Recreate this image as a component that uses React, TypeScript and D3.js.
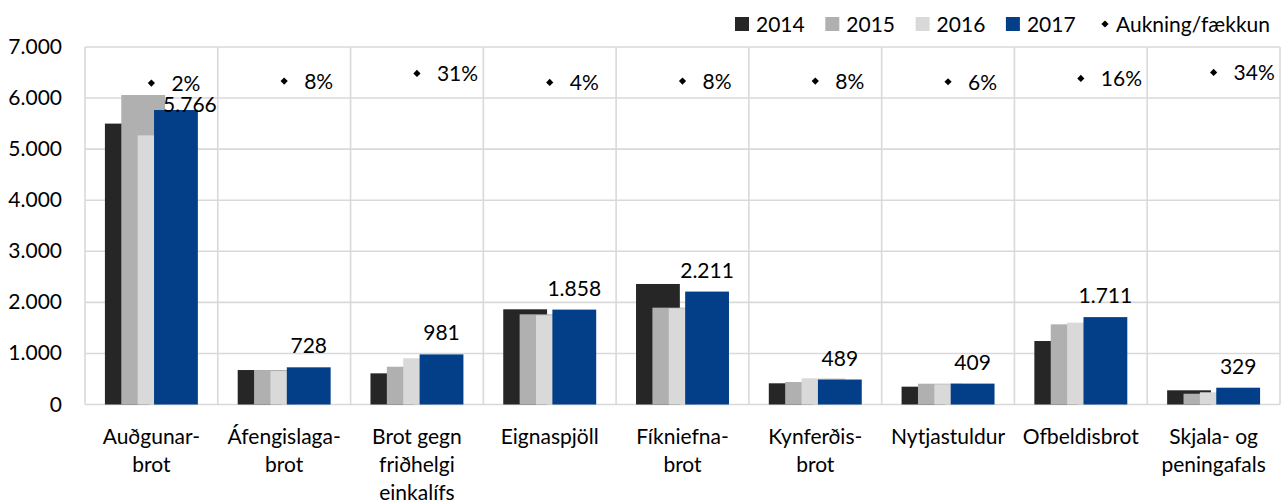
import React, { useEffect, useRef } from 'react';
import * as d3 from 'd3';

// brotaflokkar (category labels, pre-wrapped as in the source chart)
const categories = [
  'Auðgunarbrot',
  'Áfengislagabrot',
  'Brot gegn friðhelgi einkalífs',
  'Eignaspjöll',
  'Fíkniefnabrot',
  'Kynferðisbrot',
  'Nytjastuldur',
  'Ofbeldisbrot',
  'Skjala- og peningafals',
];
const categoryLines = [
  ['Auðgunar-', 'brot'],
  ['Áfengislaga-', 'brot'],
  ['Brot gegn', 'friðhelgi', 'einkalífs'],
  ['Eignaspjöll'],
  ['Fíkniefna-', 'brot'],
  ['Kynferðis-', 'brot'],
  ['Nytjastuldur'],
  ['Ofbeldisbrot'],
  ['Skjala- og', 'peningafals'],
];

const years = ['2014', '2015', '2016', '2017'];
const values2014 = [5500, 675, 610, 1864, 2360, 415, 349, 1243, 278];
const values2015 = [6060, 675, 740, 1766, 1896, 440, 407, 1570, 211];
const values2016 = [5270, 655, 905, 1746, 1883, 513, 395, 1602, 239];
const values2017 = [5766, 728, 981, 1858, 2211, 489, 409, 1711, 329];
// Aukning/fækkun 2017 miðað við meðaltal 2014-2016, %
const changePct = [2, 8, 31, 4, 8, 8, 6, 16, 34];

const yTicks = [0, 1000, 2000, 3000, 4000, 5000, 6000, 7000];
const seriesColors = ['#262626', '#b0b0b0', '#d9d9d9', '#023f88'];
const changeLabel = 'Aukning/fækkun';

const W = 1287;
const H = 501;
const FONT = 'Lato, "Liberation Sans", sans-serif';

const isl = d3.formatLocale({ decimal: ',', thousands: '.', grouping: [3], currency: ['', ' kr.'] });
const fmt = isl.format(',d');

const App = () => {
  const chartRef = useRef<SVGSVGElement | null>(null);

  useEffect(() => {
    document.body.style.margin = '0';
    if (!chartRef.current) return;
    const svg = d3.select(chartRef.current);
    svg.selectAll('*').remove();

    const margin = { top: 47, right: 7, bottom: 96.5, left: 85 };
    const x0 = margin.left;
    const x1 = W - margin.right;
    const yTop = margin.top;
    const yBot = H - margin.bottom;

    const x = d3.scaleBand().domain(categories).range([x0, x1]).padding(0);
    const y = d3.scaleLinear().domain([0, 7000]).range([yBot, yTop]);
    // hidden secondary axis for the diamonds
    const y2 = d3.scaleLinear().domain([-9.6, 1.1]).range([yBot, yTop]);

    const bw = x.bandwidth();
    const clusterW = bw * 0.7;
    const barW = bw * 0.33;
    const step = (clusterW - barW) / 3;
    const off0 = (bw - clusterW) / 2;

    const grid = svg.append('g').attr('stroke', '#d9d9d9').attr('stroke-width', 1.6);
    grid.selectAll('line.h')
      .data(yTicks)
      .join('line')
      .attr('x1', x0)
      .attr('x2', x1)
      .attr('y1', d => y(d))
      .attr('y2', d => y(d));
    const bounds = categories.map(c => x(c)!).concat([x1]);
    grid.selectAll('line.v')
      .data(bounds)
      .join('line')
      .attr('x1', d => d)
      .attr('x2', d => d)
      .attr('y1', yTop)
      .attr('y2', yBot);

    // y tick labels
    svg.append('g')
      .selectAll('text')
      .data(yTicks)
      .join('text')
      .attr('x', 62)
      .attr('y', d => y(d) + 7)
      .attr('text-anchor', 'end')
      .attr('font-family', FONT)
      .attr('font-size', 21)
      .attr('fill', '#000')
      .text(d => fmt(d));

    // bars, drawn series by series so later years overlap earlier ones
    const allSeries = [values2014, values2015, values2016, values2017];
    allSeries.forEach((vals, si) => {
      svg.append('g')
        .attr('fill', seriesColors[si])
        .selectAll('rect')
        .data(vals)
        .join('rect')
        .attr('x', (d, i) => x(categories[i])! + off0 + si * step)
        .attr('y', d => y(d))
        .attr('width', barW)
        .attr('height', d => yBot - y(d));
    });

    // value labels for 2017
    svg.append('g')
      .selectAll('text')
      .data(values2017)
      .join('text')
      .attr('x', (d, i) => x(categories[i])! + off0 + 3 * step + barW / 2 + (i === 0 ? 14 : 0))
      .attr('y', (d, i) => y(d) + (i === 0 ? 2 : -14))
      .attr('text-anchor', 'middle')
      .attr('font-family', FONT)
      .attr('font-size', 21)
      .attr('fill', '#000')
      .text(d => fmt(d));

    // change markers
    const diamond = d3.symbol().type(d3.symbolSquare).size(26);
    const chg = svg.append('g');
    chg.selectAll('path')
      .data(changePct)
      .join('path')
      .attr('d', diamond)
      .attr('fill', '#000')
      .attr('transform', (d, i) => `translate(${x(categories[i])! + bw / 2},${y2(d / 100)}) rotate(45)`);
    chg.selectAll('text')
      .data(changePct)
      .join('text')
      .attr('x', (d, i) => x(categories[i])! + bw / 2 + 20)
      .attr('y', d => y2(d / 100) + 8)
      .attr('font-family', FONT)
      .attr('font-size', 21)
      .attr('fill', '#000')
      .text(d => `${d}%`);

    // category labels
    const cat = svg.append('g')
      .attr('font-family', FONT)
      .attr('font-size', 21)
      .attr('fill', '#000')
      .attr('text-anchor', 'middle');
    categoryLines.forEach((lines, i) => {
      const t = cat.append('text')
        .attr('x', x(categories[i])! + bw / 2)
        .attr('y', yBot + 39);
      lines.forEach((ln, li) => {
        t.append('tspan')
          .attr('x', x(categories[i])! + bw / 2)
          .attr('dy', li === 0 ? 0 : 28)
          .text(ln);
      });
    });

    // legend
    const legY = 24;
    const leg = svg.append('g').attr('font-family', FONT).attr('font-size', 21).attr('fill', '#000');
    years.forEach((yr, i) => {
      const lx = 735 + i * 90.3;
      leg.append('rect')
        .attr('x', lx)
        .attr('y', legY - 7)
        .attr('width', 14)
        .attr('height', 14)
        .attr('fill', seriesColors[i]);
      leg.append('text')
        .attr('x', lx + 21)
        .attr('y', legY + 7.5)
        .text(yr);
    });
    leg.append('path')
      .attr('d', diamond)
      .attr('transform', `translate(1105,${legY}) rotate(45)`);
    leg.append('text')
      .attr('x', 1116)
      .attr('y', legY + 7.5)
      .text(changeLabel);
  }, []);

  return (
    <svg ref={chartRef} width={W} height={H} style={{ display: 'block', background: '#fff' }} />
  );
};

export default App;
